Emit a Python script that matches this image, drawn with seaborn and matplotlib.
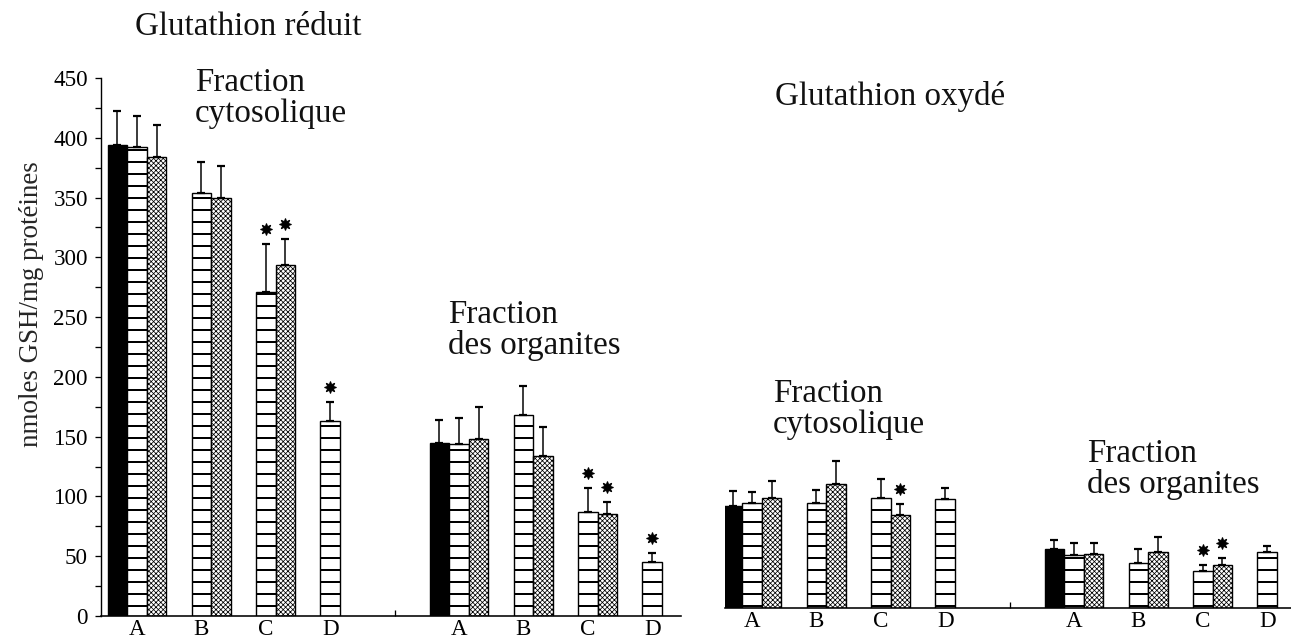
import numpy as np
import pandas as pd
import matplotlib
matplotlib.use("Agg")
import matplotlib.pyplot as plt
from matplotlib.transforms import offset_copy
import seaborn as sns

nan = np.nan

# ---- data -------------------------------------------------------------
groups = ["A", "B", "C", "D"]
series = ["témoin", "lot 1", "lot 2"]

# rows = series (témoin, lot 1, lot 2), columns = groups A-D
reduit_cyto_mean = [[394, nan, nan, nan], [392, 354, 271, 163], [384, 350, 294, nan]]
reduit_cyto_sd = [[28, nan, nan, nan], [26, 26, 40, 16], [27, 26, 21, nan]]
reduit_org_mean = [[145, nan, nan, nan], [144, 168, 87, 45], [148, 134, 85, nan]]
reduit_org_sd = [[19, nan, nan, nan], [22, 24, 20, 8], [27, 24, 10, nan]]

oxyde_cyto_mean = [[85, nan, nan, nan], [88, 88, 92, 91], [92, 104, 78, nan]]
oxyde_cyto_sd = [[13, nan, nan, nan], [9, 11, 16, 9], [14, 19, 9, nan]]
oxyde_org_mean = [[49, nan, nan, nan], [44, 38, 31, 47], [45, 47, 36, nan]]
oxyde_org_sd = [[8, nan, nan, nan], [10, 11, 5, 5], [9, 12, 6, nan]]

# significant differences (series, group)
reduit_cyto_stars = [("lot 1", "C"), ("lot 2", "C"), ("lot 1", "D")]
reduit_org_stars = [("lot 1", "C"), ("lot 2", "C"), ("lot 1", "D")]
oxyde_cyto_stars = [("lot 2", "C")]
oxyde_org_stars = [("lot 1", "C"), ("lot 2", "C")]

panels = {
    "réduit": [(reduit_cyto_mean, reduit_cyto_sd, reduit_cyto_stars),
               (reduit_org_mean, reduit_org_sd, reduit_org_stars)],
    "oxydé": [(oxyde_cyto_mean, oxyde_cyto_sd, oxyde_cyto_stars),
              (oxyde_org_mean, oxyde_org_sd, oxyde_org_stars)],
}

# long-form table: the two fractions sit side by side on one axis,
# separated by one empty slot
FRACTION_OFFSET = 5
rows = []
for panel, fracs in panels.items():
    for f, (mean, sd, stars) in enumerate(fracs):
        for s, name in enumerate(series):
            for g, grp in enumerate(groups):
                if np.isnan(mean[s][g]):
                    continue
                rows.append(dict(panel=panel, pos=g + FRACTION_OFFSET * f,
                                 serie=name, groupe=grp,
                                 moyenne=mean[s][g], et=sd[s][g],
                                 star=(name, grp) in stars))
df = pd.DataFrame(rows)

# ---- style --------------------------------------------------------------
sns.set_style("ticks")
plt.rcParams["font.family"] = ["Liberation Serif", "DejaVu Serif"]
plt.rcParams["axes.edgecolor"] = "black"
plt.rcParams["xtick.color"] = "black"
plt.rcParams["ytick.color"] = "black"
plt.rcParams["text.color"] = "#111111"

W, H, DPI = 1291, 641, 72
fig = plt.figure(figsize=(W / DPI, H / DPI), dpi=DPI)
fig.patch.set_facecolor("white")

ax_l = fig.add_axes([101 / W, (H - 616) / H, 580 / W, 538 / H])
ax_r = fig.add_axes([725 / W, (H - 608) / H, (W - 725) / W, 538 / H])

palette = {"témoin": "black", "lot 1": "white", "lot 2": "white"}
WIDTH = 0.91
hatches = {1: ("-", 2.0), 2: ("xxxxx", 0.75)}

for ax, panel, xlim in [(ax_l, "réduit", (-0.559, 8.447)),
                        (ax_r, "oxydé", (-0.42, 8.37))]:
    sub = df[df.panel == panel].reset_index(drop=True)
    sns.barplot(data=sub, x="pos", y="moyenne", hue="serie", hue_order=series,
                palette=palette, native_scale=True, width=WIDTH, dodge=True,
                errorbar=None, edgecolor="black", linewidth=1.4,
                saturation=1, legend=False, ax=ax)

    xs, ys, errs, star_x, star_y = [], [], [], [], []
    for cont in ax.containers:
        for bar in cont:
            h = bar.get_height()
            if not np.isfinite(h):
                continue
            bw = bar.get_width()
            cx = bar.get_x() + bw / 2
            pos = int(round(cx))
            slot = int(round((cx - pos) / bw)) + 1
            row = sub[(sub.pos == pos) & (sub.serie == series[slot])].iloc[0]
            if slot in hatches:
                pat, lw = hatches[slot]
                bar.set_hatch(pat)
                if hasattr(bar, "set_hatch_linewidth"):
                    bar.set_hatch_linewidth(lw)
            xs.append(cx)
            ys.append(h)
            errs.append(row.et)
            if row.star:
                star_x.append(cx)
                star_y.append(h + row.et)

    ax.errorbar(xs, ys, yerr=[np.zeros(len(errs)), errs], fmt="none",
                ecolor="black", elinewidth=1.5, capsize=4, capthick=2.2,
                zorder=4)
    ax.plot(star_x, star_y, linestyle="none", marker=(8, 1, 0),
            markersize=12, color="black", zorder=5,
            transform=offset_copy(ax.transData, fig=fig, y=15, units="dots"))

    ax.set_xlim(*xlim)
    ax.set_ylim(0, 450)
    ticks = [g + FRACTION_OFFSET * f for f in range(2) for g in range(len(groups))]
    ax.set_xticks(ticks, groups * 2)
    ax.set_xticks([FRACTION_OFFSET - 1], minor=True)
    ax.tick_params(axis="x", which="major", length=0, pad=3, labelsize=23)
    ax.tick_params(axis="x", which="minor", direction="in", length=6, width=1.3)
    ax.set_xlabel("")
    for side in ("top", "right"):
        ax.spines[side].set_visible(False)
    ax.spines["bottom"].set_linewidth(1.6)
    ax.set_facecolor("none")

# y axis on the left panel only
ax_l.set_yticks(np.arange(0, 451, 50))
ax_l.set_yticks(np.arange(25, 451, 50), minor=True)
ax_l.tick_params(axis="y", which="both", direction="out", length=6, width=1.3,
                 pad=7, labelsize=23)
ax_l.spines["left"].set_linewidth(1.4)
ax_l.set_ylabel("nmoles GSH/mg protéines", fontsize=27)
ax_l.yaxis.set_label_coords(-0.098, 0.58)

ax_r.spines["left"].set_visible(False)
ax_r.set_yticks([])
ax_r.set_ylabel("")


def label(x, y, s):
    fig.text(x / W, 1 - y / H, s, fontsize=33, ha="left", va="baseline")


label(135, 35, "Glutathion réduit")
label(195, 91, "Fraction")
label(195, 122, "cytosolique")
label(448, 323, "Fraction")
label(448, 354, "des organites")

label(775, 105, "Glutathion oxydé")
label(773, 402, "Fraction")
label(773, 433, "cytosolique")
label(1087, 462, "Fraction")
label(1087, 493, "des organites")

fig.savefig("out.png", dpi=DPI, facecolor="white")
